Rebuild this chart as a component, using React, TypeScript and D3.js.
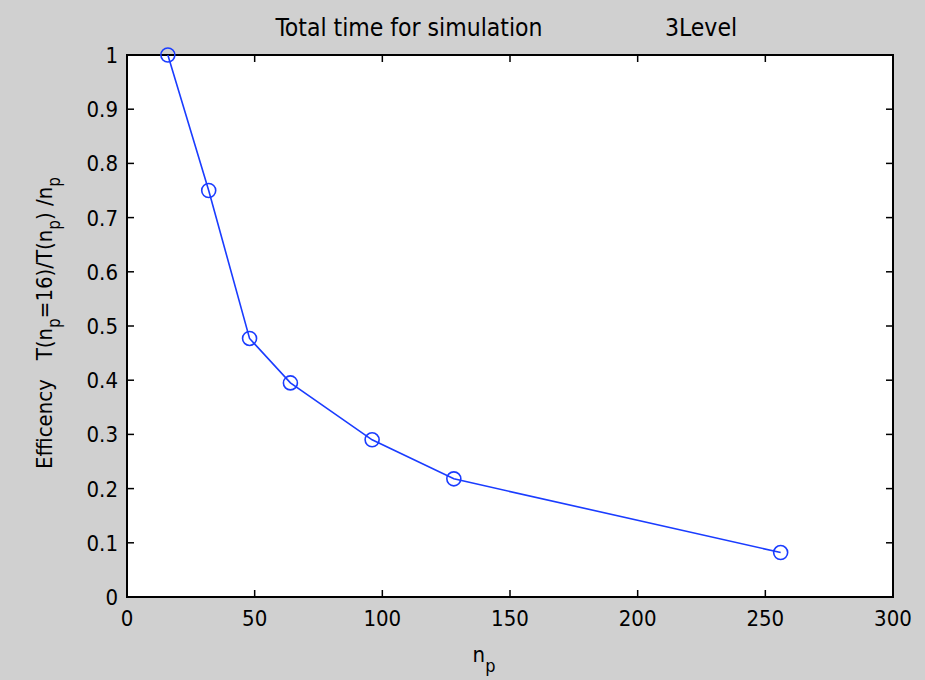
import React from "react";
import * as d3 from "d3";

const nProcs = [16, 32, 48, 64, 96, 128, 256];
const efficiency = [1.0, 0.75, 0.477, 0.395, 0.29, 0.218, 0.082];
const xTicks = [0, 50, 100, 150, 200, 250, 300];
const yTicks = [0, 0.1, 0.2, 0.3, 0.4, 0.5, 0.6, 0.7, 0.8, 0.9, 1];

const W = 925;
const H = 680;
const M = { left: 127, right: 32, top: 55, bottom: 83 };
const FONT = "'Liberation Sans Narrow', 'DejaVu Sans Condensed', 'Liberation Sans', sans-serif";
const BLUE = "#1a3cff";

export default function App() {
  const x = d3.scaleLinear().domain([0, 300]).range([M.left, W - M.right]);
  const y = d3.scaleLinear().domain([0, 1]).range([H - M.bottom, M.top]);
  const line = d3
    .line<number>()
    .x((_, i) => x(nProcs[i]))
    .y((d) => y(d));
  const x0 = M.left, x1 = W - M.right, y0 = H - M.bottom, y1 = M.top;
  const tl = 7;
  return (
    <svg width={W} height={H} style={{ position: "absolute", left: 0, top: 0 }}>
      <rect x={0} y={0} width={W} height={H} fill="#d0d0d0" />
      <rect x={x0} y={y1} width={x1 - x0} height={y0 - y1} fill="#ffffff" />
      <g stroke="#000" strokeWidth={1.5}>
        {xTicks.map((t) => (
          <g key={"xt" + t}>
            <line x1={x(t)} x2={x(t)} y1={y0} y2={y0 - tl} />
            <line x1={x(t)} x2={x(t)} y1={y1} y2={y1 + tl} />
          </g>
        ))}
        {yTicks.map((t) => (
          <g key={"yt" + t}>
            <line x1={x0} x2={x0 + tl} y1={y(t)} y2={y(t)} />
            <line x1={x1} x2={x1 - tl} y1={y(t)} y2={y(t)} />
          </g>
        ))}
        <rect x={x0} y={y1} width={x1 - x0} height={y0 - y1} fill="none" strokeWidth={2} />
      </g>
      <g fontFamily={FONT} fontSize={22} fill="#000">
        {xTicks.map((t) => (
          <text key={"xl" + t} x={x(t)} y={y0 + 29} textAnchor="middle">
            {t}
          </text>
        ))}
        {yTicks.map((t) => (
          <text key={"yl" + t} x={x0 - 9} y={y(t) + 8} textAnchor="end">
            {t}
          </text>
        ))}
        <text x={409} y={36} textAnchor="middle" fontSize={24.5}>
          Total time for simulation
        </text>
        <text x={701} y={36} textAnchor="middle" fontSize={24.5}>
          3Level
        </text>
        <text x={484} y={662} textAnchor="middle">
          n<tspan dy={10} fontSize={18}>p</tspan>
        </text>
        <text transform={`translate(52,${(y0 + y1) / 2 - 3}) rotate(-90)`} textAnchor="middle" xmlSpace="preserve">
          {"Efficency   T(n"}
          <tspan dy={8} fontSize={17}>p</tspan>
          <tspan dy={-8}>{"=16)/T(n"}</tspan>
          <tspan dy={8} fontSize={17}>p</tspan>
          <tspan dy={-8}>{") /n"}</tspan>
          <tspan dy={8} fontSize={17}>p</tspan>
        </text>
      </g>
      <path d={line(efficiency) || ""} fill="none" stroke={BLUE} strokeWidth={1.6} />
      {efficiency.map((v, i) => (
        <circle key={i} cx={x(nProcs[i])} cy={y(v)} r={7} fill="none" stroke={BLUE} strokeWidth={1.6} />
      ))}
    </svg>
  );
}
